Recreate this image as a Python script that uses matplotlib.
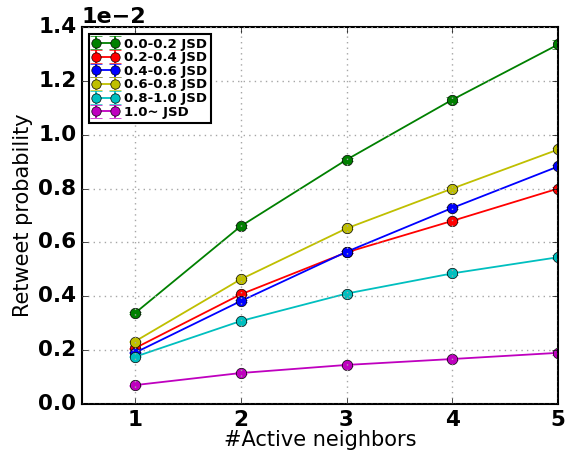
import numpy as np
import matplotlib
matplotlib.use("Agg")
import matplotlib.pyplot as plt

plt.style.use("classic")

# data (values in units of 1e-2)
neighbors = [1, 2, 3, 4, 5]
labels = ["0.0-0.2 JSD", "0.2-0.4 JSD", "0.4-0.6 JSD", "0.6-0.8 JSD", "0.8-1.0 JSD", "1.0~ JSD"]
colors = ["g", "r", "b", "y", "c", "m"]
jsd_00_02 = [0.337, 0.660, 0.907, 1.130, 1.335]
jsd_02_04 = [0.207, 0.407, 0.563, 0.680, 0.800]
jsd_04_06 = [0.190, 0.382, 0.565, 0.728, 0.882]
jsd_06_08 = [0.232, 0.463, 0.652, 0.800, 0.945]
jsd_08_10 = [0.175, 0.308, 0.410, 0.485, 0.545]
jsd_10_up = [0.070, 0.115, 0.145, 0.167, 0.190]
err_00_02 = [0.004, 0.005, 0.006, 0.010, 0.015]
err_other = [0.002, 0.003, 0.004, 0.005, 0.007]

series = [jsd_00_02, jsd_02_04, jsd_04_06, jsd_06_08, jsd_08_10, jsd_10_up]
errs = [err_00_02] + [err_other] * 5

fig = plt.figure(figsize=(5.65, 4.57), dpi=100, facecolor="white")
ax = fig.add_axes([0.145, 0.116, 0.843, 0.825])

for vals, err, c, lab in zip(series, errs, colors, labels):
    ax.errorbar(neighbors, np.array(vals) * 1e-2, yerr=np.array(err) * 1e-2,
                color=c, marker="o", markersize=7.5, markerfacecolor=c,
                markeredgecolor="k", linewidth=1.3, capsize=4, label=lab)

ax.set_xlim(0.5, 5)
ax.set_ylim(0, 0.014)
ax.set_xticks([1, 2, 3, 4, 5])
ax.ticklabel_format(axis="y", style="sci", scilimits=(-2, -2))
ax.yaxis.get_offset_text().set_fontsize(16)
ax.yaxis.get_offset_text().set_fontweight("bold")
ax.grid(True, color="0.65", linestyle=":", linewidth=1)
ax.set_facecolor("white")
ax.tick_params(axis="both", pad=4)

for t in ax.get_xticklabels() + ax.get_yticklabels():
    t.set_fontsize(15.5)
    t.set_fontweight("heavy")

for sp in ax.spines.values():
    sp.set_linewidth(1.5)

ax.set_xlabel("#Active neighbors", fontsize=15, labelpad=0)
ax.set_ylabel("Retweet probability", fontsize=15, labelpad=4)

leg = ax.legend(loc="upper left", numpoints=2, prop={"size": 9.5, "weight": "bold"},
                handlelength=2.0, labelspacing=0.05, borderpad=0.3, handletextpad=0.4,
                markerscale=0.9)
leg.get_frame().set_linewidth(1.5)

fig.savefig("out.png", dpi=100, facecolor="white")
